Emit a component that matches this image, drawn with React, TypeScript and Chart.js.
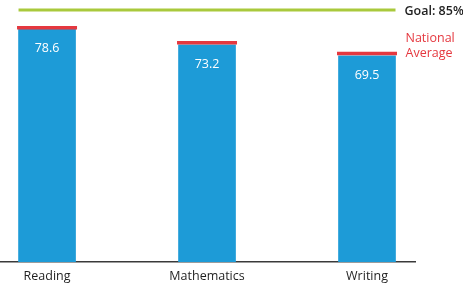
import React, { useEffect, useRef } from 'react';
import { Chart, registerables } from 'chart.js';
Chart.register(...registerables);

const categories = ['Reading', 'Mathematics', 'Writing'];
const scores = [78.6, 73.2, 69.5];
const nationalAverage = [79.0, 73.9, 70.3];
const goal = 85;
const goalLabel = 'Goal: 85%';
const averageLabel = ['National', 'Average'];

const FONT = "'Open Sans', 'DejaVu Sans', sans-serif";
const BLUE = '#1d9bd7';
const RED = '#e5383f';
const GREEN = '#a9c93c';

export default function App() {
  const ref = useRef<HTMLCanvasElement>(null);
  useEffect(() => {
    document.body.style.margin = '0';
    const positions = categories.map((_, i) => i);
    const annot = {
      id: 'annot',
      beforeDatasetsDraw(chart: any) {
        const ctx = chart.ctx;
        const bars = chart.getDatasetMeta(0).data;
        const yScale = chart.scales.y;
        const gy = yScale.getPixelForValue(goal);
        const first = bars[0];
        const last = bars[bars.length - 1];
        const left = first.x - first.width / 2;
        const right = last.x + last.width / 2;
        ctx.save();
        ctx.strokeStyle = GREEN;
        ctx.lineWidth = 3;
        ctx.beginPath();
        ctx.moveTo(left, gy);
        ctx.lineTo(right, gy);
        ctx.stroke();
        ctx.fillStyle = '#1f1f1f';
        ctx.font = `600 12.5px ${FONT}`;
        ctx.textBaseline = 'middle';
        ctx.textAlign = 'left';
        ctx.fillText(goalLabel, right + 9, gy + 2);
        ctx.restore();
      },
      afterDatasetsDraw(chart: any) {
        const ctx = chart.ctx;
        const bars = chart.getDatasetMeta(0).data;
        const avgPts = chart.getDatasetMeta(1).data;
        ctx.save();
        ctx.fillStyle = '#ffffff';
        ctx.font = `500 12.5px ${FONT}`;
        ctx.textAlign = 'center';
        ctx.textBaseline = 'middle';
        bars.forEach((b: any, i: number) => {
          ctx.fillText(String(scores[i]), b.x, b.y + 20);
        });
        const last = bars[bars.length - 1];
        const lp = avgPts[avgPts.length - 1];
        ctx.fillStyle = RED;
        ctx.textAlign = 'left';
        ctx.font = `500 12.5px ${FONT}`;
        const lx = last.x + last.width / 2 + 10;
        ctx.fillText(averageLabel[0], lx, lp.y - 15);
        ctx.fillText(averageLabel[1], lx, lp.y + 0);
        ctx.restore();
      },
    };
    const chart = new Chart(ref.current!, {
      type: 'bar',
      data: {
        datasets: [
          {
            type: 'bar',
            data: positions.map((x, i) => ({ x, y: scores[i] })),
            backgroundColor: BLUE,
            barThickness: 57,
            order: 2,
          } as any,
          {
            type: 'line',
            data: positions.map((x, i) => ({ x, y: nationalAverage[i] })),
            showLine: false,
            pointStyle: 'line',
            pointRadius: 30,
            pointBorderWidth: 3.5,
            pointBorderColor: RED,
            borderColor: RED,
            order: 1,
            clip: false,
          } as any,
        ],
      },
      options: {
        responsive: true,
        maintainAspectRatio: false,
        animation: false,
        layout: { autoPadding: false, padding: { top: 1, right: 48, left: 0, bottom: 0 } },
        plugins: { legend: { display: false }, tooltip: { enabled: false } },
        scales: {
          x: {
            type: 'linear',
            offset: false,
            min: -0.294,
            max: 2.3,
            grid: { display: false, drawTicks: false, offset: false },
            border: { display: true, color: '#3a3a3a', width: 1.5 },
            afterBuildTicks: (s: any) => {
              s.ticks = positions.map((v) => ({ value: v }));
            },
            afterFit: (s: any) => {
              s.height = 26;
            },
            ticks: {
              autoSkip: false,
              maxRotation: 0,
              padding: 7,
              color: '#1f1f1f',
              font: { family: FONT, size: 12.5, weight: '500' },
              callback: (v: any) => categories[v] ?? '',
            },
          },
          y: { display: false, min: 0, max: 88 },
        },
      },
      plugins: [annot],
    });
    return () => chart.destroy();
  }, []);
  return (
    <div style={{ position: 'relative', width: 463, height: 288 }}>
      <canvas ref={ref} />
    </div>
  );
}
